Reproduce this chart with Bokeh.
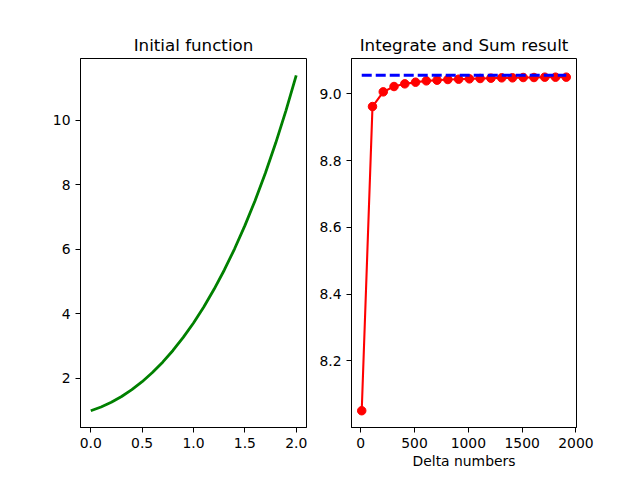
from bokeh.plotting import figure
from bokeh.layouts import row
from bokeh.models import FixedTicker, PrintfTickFormatter
from bokeh.embed import file_html
from bokeh.resources import INLINE

# ---- data ----
x_func = [0.0, 0.1, 0.2, 0.3, 0.4, 0.5, 0.6, 0.7, 0.8, 0.9, 1.0,
          1.1, 1.2, 1.3, 1.4, 1.5, 1.6, 1.7, 1.8, 1.9, 2.0]
y_func = [1.000, 1.115, 1.261, 1.440, 1.652, 1.899, 2.182, 2.504, 2.866, 3.270, 3.718,
          4.214, 4.760, 5.359, 6.015, 6.732, 7.513, 8.364, 9.290, 10.296, 11.389]

delta_numbers = [10, 110, 210, 310, 410, 510, 610, 710, 810, 910,
                 1010, 1110, 1210, 1310, 1410, 1510, 1610, 1710, 1810, 1910]
sum_results = [8.051, 8.962, 9.006, 9.022, 9.030, 9.035, 9.039, 9.041, 9.043, 9.044,
               9.045, 9.046, 9.047, 9.048, 9.048, 9.049, 9.049, 9.050, 9.050, 9.050]
integral_value = 9.0557

left_xticks = [0.0, 0.5, 1.0, 1.5, 2.0]
left_yticks = [2, 4, 6, 8, 10]
right_xticks = [0, 500, 1000, 1500, 2000]
right_yticks = [8.2, 8.4, 8.6, 8.8, 9.0]

FONT = "DejaVu Sans"


def pad(lo, hi, frac=0.05):
    d = (hi - lo) * frac
    return lo - d, hi + d


def style(p):
    p.xgrid.visible = False
    p.ygrid.visible = False
    p.outline_line_color = "black"
    p.outline_line_width = 1
    p.outline_line_alpha = 1
    p.title.text_font = FONT
    p.title.text_font_size = "16.7px"
    p.title.text_font_style = "normal"
    p.title.text_color = "black"
    p.title.align = "center"
    p.title.standoff = 8
    for ax in (p.xaxis, p.yaxis):
        ax.axis_line_color = "black"
        ax.major_tick_line_color = "black"
        ax.major_tick_out = 5
        ax.major_tick_in = 0
        ax.minor_tick_line_color = None
        ax.major_label_text_font = FONT
        ax.major_label_text_font_size = "13.9px"
        ax.major_label_text_color = "black"
        ax.major_label_standoff = 5
        ax.axis_label_text_font = FONT
        ax.axis_label_text_font_size = "13.9px"
        ax.axis_label_text_font_style = "normal"
        ax.axis_label_text_color = "black"
    p.background_fill_color = "white"
    p.border_fill_color = "white"


# ---- left: initial function ----
p1 = figure(frame_width=226, frame_height=369, title="Initial function",
            x_range=pad(min(x_func), max(x_func)), y_range=pad(min(y_func), max(y_func)),
            output_backend="svg", toolbar_location=None,
            min_border_left=80, min_border_right=5, min_border_top=58, min_border_bottom=45)
p1.line(x_func, y_func, line_color="#008000", line_width=2.8)
p1.xaxis.ticker = FixedTicker(ticks=left_xticks)
p1.xaxis.formatter = PrintfTickFormatter(format="%.1f")
p1.yaxis.ticker = FixedTicker(ticks=left_yticks)
style(p1)

# ---- right: integrate and sum ----
ylo = min(sum_results + [integral_value])
yhi = max(sum_results + [integral_value])
p2 = figure(frame_width=225, frame_height=369, title="Integrate and Sum result",
            x_range=pad(min(delta_numbers), max(delta_numbers)), y_range=pad(ylo, yhi),
            output_backend="svg", toolbar_location=None,
            min_border_left=40, min_border_right=64, min_border_top=58, min_border_bottom=45)
p2.line(delta_numbers, sum_results, line_color="#ff0000", line_width=2.1)
p2.scatter(delta_numbers, sum_results, size=8.5, fill_color="#ff0000", line_color="#ff0000")
p2.line([delta_numbers[0], delta_numbers[-1]], [integral_value, integral_value],
        line_color="#0000ff", line_width=2.8, line_dash="10 4")
p2.xaxis.ticker = FixedTicker(ticks=right_xticks)
p2.yaxis.ticker = FixedTicker(ticks=right_yticks)
p2.yaxis.formatter = PrintfTickFormatter(format="%.1f")
p2.xaxis.axis_label = "Delta numbers"
p2.xaxis.axis_label_standoff = 2
style(p2)

layout = row(p1, p2)

with open("out.html", "w") as f:
    f.write(file_html(layout, INLINE))
